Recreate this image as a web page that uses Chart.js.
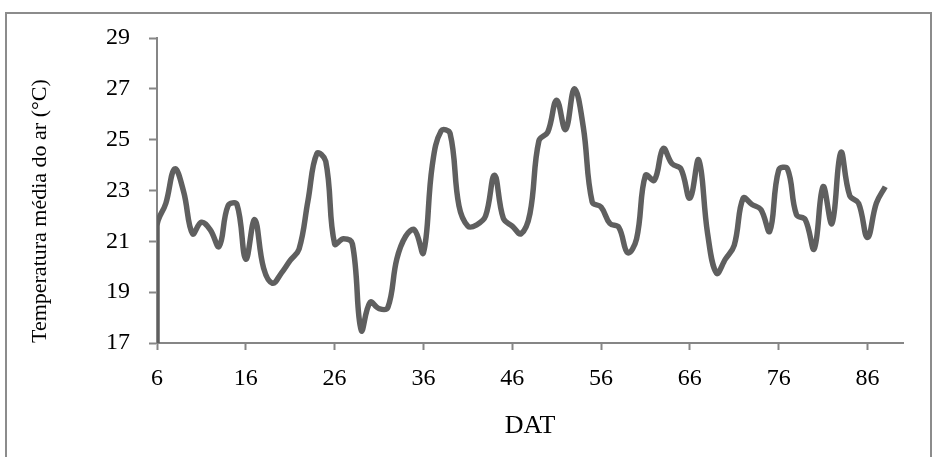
<!DOCTYPE html>
<html>
<head>
<meta charset="utf-8">
<script src="https://cdn.jsdelivr.net/npm/chart.js@4.4.0/dist/chart.umd.min.js"></script>
<style>
  body { margin: 0; background: #fff; }
  #wrap { position: relative; width: 935px; height: 457px; overflow: hidden; }
  #frame { position: absolute; left: 5px; top: 12px; width: 927px; height: 460px;
           border: 2px solid #8c8c8c; box-sizing: border-box; }
  #grafico { position: absolute; left: 0; top: 0; }
</style>
</head>
<body>
<div id="wrap">
  <div id="frame"></div>
  <canvas id="grafico" width="935" height="457"></canvas>
</div>
<script>
// dias apos transplantio (DAT) e temperatura media do ar
var dias = [6, 6, 7, 8, 9, 10, 11, 12, 13, 14, 15, 16, 17, 18, 19, 20, 21, 22, 23, 24, 25, 26, 27,
  28, 29, 30, 31, 32, 33, 34, 35, 36, 37, 38, 39, 40, 41, 42, 43, 44, 45, 46, 47, 48, 49, 50,
  51, 52, 53, 54, 55, 56, 57, 58, 59, 60, 61, 62, 63, 64, 65, 66, 67, 68, 69, 70, 71, 72, 73,
  74, 75, 76, 77, 78, 79, 80, 81, 82, 83, 84, 85, 86, 87, 88];
var temperatura = [17, 21.6, 22.5, 23.85, 22.95, 21.3, 21.75, 21.45, 20.8, 22.4, 22.45, 20.3, 21.85,
  19.95, 19.35, 19.75, 20.25, 20.7, 22.6, 24.45, 24.15, 20.9, 21.1, 20.9, 17.5, 18.6, 18.35,
  18.4, 20.3, 21.2, 21.45, 20.55, 24.0, 25.35, 25.25, 22.4, 21.6, 21.65, 22.0, 23.6, 21.9,
  21.6, 21.3, 22.1, 24.95, 25.3, 26.55, 25.4, 27.0, 25.5, 22.55, 22.35, 21.7, 21.55, 20.55,
  21.1, 23.6, 23.4, 24.65, 24.05, 23.85, 22.7, 24.2, 21.3, 19.75, 20.3, 20.85, 22.7, 22.45,
  22.25, 21.4, 23.8, 23.85, 22.05, 21.85, 20.7, 23.15, 21.7, 24.5, 22.8, 22.5, 21.15, 22.5, 23.15];
var ticksX = [6, 16, 26, 36, 46, 56, 66, 76, 86];

var pontos = [];
for (var i = 0; i < dias.length; i++) {
  pontos.push({x: dias[i], y: temperatura[i]});
}

var familia = "'Liberation Serif', 'Times New Roman', serif";
var cinza = '#868686';

var ctx = document.getElementById("grafico");
var grafico = new Chart(ctx, {
  type: 'line',
  data: {
    datasets: [{
      label: "Temperatura",
      data: pontos,
      borderColor: '#5f5f5f',
      borderWidth: 5.5,
      pointRadius: 0,
      tension: 0.4,
      fill: false
    }]
  },
  options: {
    responsive: false,
    animation: false,
    layout: { padding: { left: 0, top: 38, right: 32, bottom: 0 } },
    plugins: { legend: { display: false }, tooltip: { enabled: false } },
    scales: {
      x: {
        type: 'linear',
        min: 6,
        max: 90,
        afterBuildTicks: function(scale) {
          scale.ticks = ticksX.map(function(v) { return {value: v}; });
        },
        afterFit: function(scale) { scale.height = 114; },
        border: { color: cinza, width: 2 },
        grid: { drawOnChartArea: false, drawTicks: true, tickLength: 7, tickColor: cinza, tickWidth: 2 },
        ticks: { color: '#000', font: {family: familia, size: 24}, padding: 14, maxRotation: 0, autoSkip: false },
        title: { display: true, text: 'DAT', color: '#000', font: {family: familia, size: 26}, padding: { top: 0, bottom: 15 } }
      },
      y: {
        min: 17,
        max: 29,
        afterFit: function(scale) { scale.width = 157; },
        border: { color: cinza, width: 2 },
        grid: { drawOnChartArea: false, drawTicks: true, tickLength: 8, tickColor: cinza, tickWidth: 2 },
        ticks: { stepSize: 2, color: '#000', font: {family: familia, size: 24}, padding: 19 },
        title: { display: true, text: 'Temperatura média do ar (°C)', color: '#000', align: 'start',
                 font: {family: familia, size: 22}, padding: { top: 27, bottom: 0 } }
      }
    }
  }
});
</script>
</body>
</html>
